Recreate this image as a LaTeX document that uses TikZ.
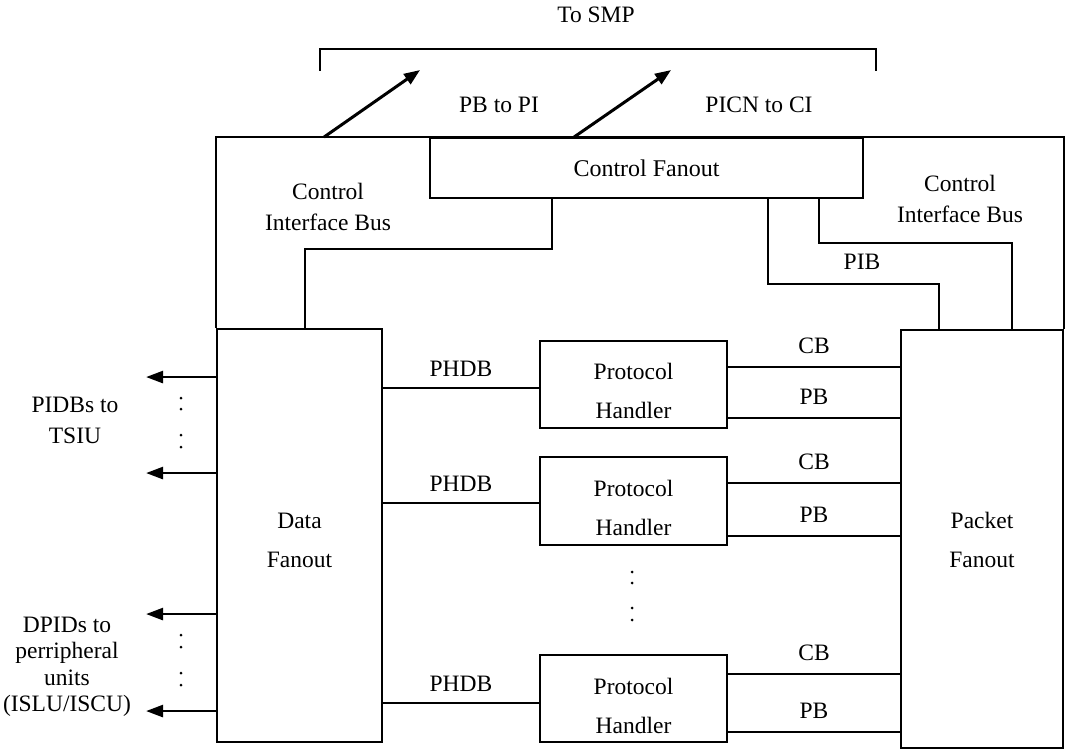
\documentclass[tikz,border=0pt]{standalone}
\usepackage{fontspec}
\setmainfont{Liberation Serif}
\usetikzlibrary{arrows.meta}
\begin{document}
\begin{tikzpicture}[x=1pt,y=-1pt,
  line width=1.9pt, line join=miter,
  box/.style={draw, line width=1.9pt, inner sep=0pt},
  lbl/.style={inner sep=0pt, align=center, font=\fontsize{23.5}{31}\selectfont},
  boxlbl/.style={inner sep=0pt, align=center, font=\fontsize{23.5}{39}\selectfont},
  outarrow/.style={line width=2.6pt, -{Triangle[length=17pt,width=12pt]}},
  uparrow/.style={line width=3pt, -{Triangle[length=16pt,width=12pt]}},
  dot/.style={circle, fill, inner sep=0pt, minimum size=3pt}
]
\useasboundingbox (0,0) rectangle (1066,749);

% main blocks
\node[box, minimum width=433pt, minimum height=60pt, font=\fontsize{24}{28}\selectfont] (cf) at (646.5,168) {Control Fanout};
\node[box, minimum width=165pt, minimum height=413pt] (df) at (299.5,535.5) {};
\node[boxlbl] (dft) at ([yshift=-4.5pt]df.center) {Data\\Fanout};
\node[box, minimum width=162pt, minimum height=418pt] (pf) at (982,539) {};
\node[boxlbl] (pft) at ([yshift=-1pt]pf.center) {Packet\\Fanout};

% protocol handlers
\node[box, minimum width=187pt, minimum height=87pt] (ph1) at (633.5,384.5) {};
\node[box, minimum width=187pt, minimum height=88pt] (ph2) at (633.5,501) {};
\node[box, minimum width=187pt, minimum height=87pt] (ph3) at (633.5,698.5) {};
\node[boxlbl] (ph1t) at ([yshift=-6.5pt]ph1.center) {Protocol\\Handler};
\node[boxlbl] (ph2t) at ([yshift=-6.5pt]ph2.center) {Protocol\\Handler};
\node[boxlbl] (ph3t) at ([yshift=-7.5pt]ph3.center) {Protocol\\Handler};

% outer frame of the control interface bus
\draw (df.north west) -- ++(0,-191) -| (pf.north east);

% control bus drops
\draw ([xshift=89pt]df.north west) -- ++(0,-79) -| ([xshift=123pt]cf.south west);
\draw ([xshift=339pt]cf.south west) -- ++(0,85) -| ([xshift=39pt]pf.north west);
\draw ([xshift=390pt]cf.south west) -- ++(0,44) -| ([xshift=-52pt]pf.north east);
\node[lbl] (pib) at (862,262) {PIB};
\node[lbl] (cibl) at (328,207) {Control\\Interface Bus};
\node[lbl] (cibr) at (960,199) {Control\\Interface Bus};

% links to SMP
\coordinate (fr) at (df.north west |- cf.north);
\coordinate (smpL) at (320,71);
\coordinate (smpR) at (876,71);
\draw (smpL) -- ++(0,-22) -| (smpR);
\node[lbl] (smp) at (596,15) {To SMP};
\coordinate (a1) at ([xshift=108pt]fr);
\coordinate (a2) at ([xshift=145pt]cf.north west);
\coordinate (a1t) at ([shift={(96pt,67pt)}]a1);
\coordinate (a2t) at ([shift={(97pt,67pt)}]a2);
\draw[uparrow] (a1) -- (a1t);
\draw[uparrow] (a2) -- (a2t);
\node[lbl] (pbpi) at (499,105) {PB to PI};
\node[lbl] (picn) at (759,105) {PICN to CI};

% PHDB links
\foreach \p/\s in {ph1/-3.5, ph2/-2, ph3/-4.5} {
  \coordinate (\p in) at ([yshift=\s pt]\p.west);
  \draw (\p in) -- (\p in -| df.east)
    node[lbl, midway, yshift=19pt] {PHDB};
}

% CB and PB links
\foreach \p/\c/\b in {ph1/-27/11, ph2/-27/10, ph3/-20/11} {
  \coordinate (\p cb) at ([yshift=\c pt]\p.north east);
  \coordinate (\p pb) at ([yshift=\b pt]\p.south east);
  \draw (\p cb) -- (\p cb -| pf.west) node[lbl, midway, yshift=21pt] {CB};
  \draw (\p pb) -- (\p pb -| pf.west) node[lbl, midway, yshift=21pt] {PB};
}

% outputs of the data fanout
\foreach \n/\s in {o1/-49, o2/-145, o3/-286, o4/-383} {
  \coordinate (\n) at ([yshift=\s pt]df.north west);
  \coordinate (\n t) at ([xshift=-70pt]\n);
  \draw[outarrow] (\n) -- (\n t);
}
\node[lbl] (tsiu) at (75,420) {PIDBs to\\TSIU};
\node[inner sep=0pt, align=center, font=\fontsize{23.5}{26.5}\selectfont] (dpid) at (67,667)
  {DPIDs to\\perripheral\\units\\(ISLU/ISCU)};

% ellipsis dots
\foreach \y in {398,409,435,447,635,647,673,685}
  \node[dot] at (181,\y) {};
\foreach \y in {572,583,608,620}
  \node[dot] at (632,\y) {};
\end{tikzpicture}
\end{document}
